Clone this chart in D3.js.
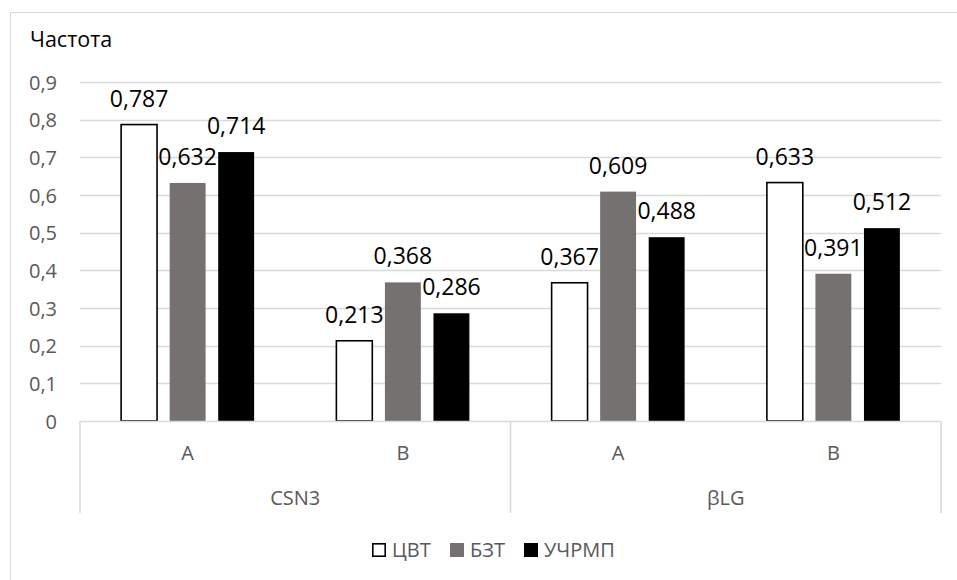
<!DOCTYPE html>
<html>
<head>
<meta charset="utf-8">
<script src="https://cdn.jsdelivr.net/npm/d3@7"></script>
<style>
  html, body { margin: 0; padding: 0; background: #fff; }
  svg { display: block; font-family: "Open Sans", "Noto Sans", sans-serif; }
</style>
</head>
<body>
<svg id="chart" width="957" height="580"></svg>
<script>
// Genes and alleles (two-level category axis)
const genes = ["CSN3", "βLG"];
const alleles = ["A", "B"];
const categories = [
  { gene: "CSN3", allele: "A" },
  { gene: "CSN3", allele: "B" },
  { gene: "βLG", allele: "A" },
  { gene: "βLG", allele: "B" }
];
// Breeds / populations
const seriesNames = ["ЦВТ", "БЗТ", "УЧРМП"];
// Allele frequencies per category, in the order of `categories`
const valuesCVT = [0.787, 0.213, 0.367, 0.633];
const valuesBZT = [0.632, 0.368, 0.609, 0.391];
const valuesUCHRMP = [0.714, 0.286, 0.488, 0.512];
const yTicks = [0, 0.1, 0.2, 0.3, 0.4, 0.5, 0.6, 0.7, 0.8, 0.9];
const yTitle = "Частота";

const seriesValues = [valuesCVT, valuesBZT, valuesUCHRMP];
const fmt = v => d3.format(".3~f")(v).replace(".", ",");
const fmtTick = v => (v === 0 ? "0" : d3.format(".1f")(v).replace(".", ","));

const svg = d3.select("#chart");
const plot = { left: 80, right: 941, top: 82, bottom: 421 };

// Outer chart frame
svg.append("rect")
  .attr("x", 10.5).attr("y", 12.5)
  .attr("width", 960).attr("height", 600)
  .attr("fill", "none").attr("stroke", "#d9d9d9").attr("stroke-width", 1);

const y = d3.scaleLinear().domain([0, 0.9]).range([plot.bottom, plot.top]);
const x0 = d3.scaleBand().domain(d3.range(categories.length))
  .range([plot.left, plot.right]).paddingInner(0).paddingOuter(0);
const clusterWidth = 133;
const x1 = d3.scaleBand().domain(seriesNames)
  .range([0, clusterWidth]).paddingInner(0.26).paddingOuter(0);

// Gridlines
svg.append("g").selectAll("line")
  .data(yTicks.filter(t => t > 0))
  .join("line")
  .attr("x1", plot.left).attr("x2", plot.right)
  .attr("y1", d => Math.round(y(d)) + 0.5).attr("y2", d => Math.round(y(d)) + 0.5)
  .attr("stroke", "#d9d9d9").attr("stroke-width", 1.5);

// Y axis labels
const yAxis = d3.axisLeft(y).tickValues(yTicks).tickFormat(fmtTick).tickSize(0).tickPadding(0);
const yAxisG = svg.append("g").attr("transform", "translate(57,0)").call(yAxis);
yAxisG.select(".domain").remove();
yAxisG.selectAll("text")
  .attr("fill", "#595959").attr("font-size", 20)
  .attr("font-family", "'Open Sans', sans-serif")
  .attr("dy", "0.35em");

// Title
svg.append("text")
  .attr("x", 30).attr("y", 47)
  .attr("font-size", 21.5).attr("fill", "#000")
  .text(yTitle);

// Bars
const barColors = ["#ffffff", "#767171", "#000000"];
const barG = svg.append("g");
seriesNames.forEach((name, si) => {
  const g = barG.append("g");
  g.selectAll("rect")
    .data(seriesValues[si])
    .join("rect")
    .attr("x", (d, i) => x0(i) + (x0.bandwidth() - clusterWidth) / 2 + x1(name))
    .attr("y", d => y(d))
    .attr("width", x1.bandwidth())
    .attr("height", d => y(0) - y(d))
    .attr("fill", barColors[si])
    .attr("stroke", si === 0 ? "#000" : "none")
    .attr("stroke-width", 1.6);
});

// Category axis line
svg.append("line")
  .attr("x1", plot.left).attr("x2", plot.right)
  .attr("y1", plot.bottom + 0.5).attr("y2", plot.bottom + 0.5)
  .attr("stroke", "#d9d9d9").attr("stroke-width", 1.5);

// Group separators on the category axis
const sepX = [plot.left, x0(2), plot.right];
svg.append("g").selectAll("line")
  .data(sepX)
  .join("line")
  .attr("x1", d => d).attr("x2", d => d)
  .attr("y1", plot.bottom).attr("y2", 513)
  .attr("stroke", "#d9d9d9").attr("stroke-width", 1.5);

// Data labels
const labelG = svg.append("g");
seriesNames.forEach((name, si) => {
  labelG.append("g").selectAll("text")
    .data(seriesValues[si])
    .join("text")
    .attr("x", (d, i) => x0(i) + (x0.bandwidth() - clusterWidth) / 2 + x1(name) + x1.bandwidth() / 2)
    .attr("y", d => y(d) - 18)
    .attr("text-anchor", "middle")
    .attr("font-size", 23).attr("fill", "#000")
    .text(d => fmt(d));
});

// Inner category labels (alleles)
svg.append("g").selectAll("text")
  .data(categories)
  .join("text")
  .attr("x", (d, i) => x0(i) + x0.bandwidth() / 2)
  .attr("y", 460)
  .attr("text-anchor", "middle")
  .attr("font-size", 20).attr("fill", "#595959")
  .text(d => d.allele);

// Outer category labels (genes)
svg.append("g").selectAll("text")
  .data(genes)
  .join("text")
  .attr("x", (g, gi) => x0(gi * 2) + x0.bandwidth())
  .attr("y", 505)
  .attr("text-anchor", "middle")
  .attr("font-size", 20).attr("fill", "#595959")
  .text(g => g);

// Legend
const legendItems = [
  { name: seriesNames[0], x: 372 },
  { name: seriesNames[1], x: 450 },
  { name: seriesNames[2], x: 524 }
];
const legend = svg.append("g");
legendItems.forEach((it, i) => {
  legend.append("rect")
    .attr("x", i === 0 ? it.x + 0.8 : it.x).attr("y", i === 0 ? 543.8 : 543)
    .attr("width", i === 0 ? 12.4 : 14).attr("height", i === 0 ? 12.4 : 14)
    .attr("fill", barColors[i])
    .attr("stroke", i === 0 ? "#000" : "none")
    .attr("stroke-width", 1.6);
  legend.append("text")
    .attr("x", it.x + 20).attr("y", 557)
    .attr("font-size", 20).attr("fill", "#595959")
    .text(it.name);
});
</script>
</body>
</html>
